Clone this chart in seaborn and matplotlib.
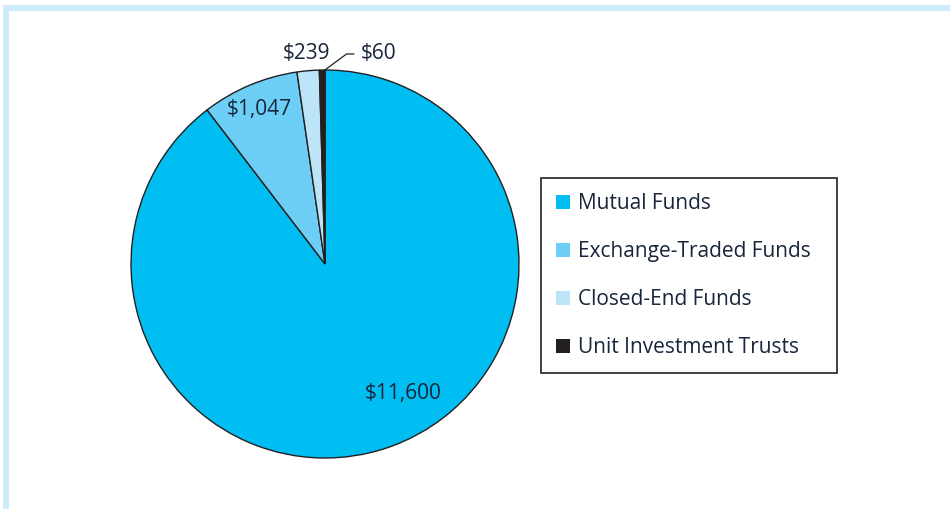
import matplotlib
matplotlib.use("Agg")
import matplotlib.pyplot as plt
from matplotlib.patches import Patch, Rectangle
import seaborn as sns
import numpy as np

categories = ["Mutual Funds", "Exchange-Traded Funds", "Closed-End Funds", "Unit Investment Trusts"]
values = [11600, 1047, 239, 60]
value_labels = ["$11,600", "$1,047", "$239", "$60"]
colors = sns.color_palette(["#00BDF2", "#6DCFF6", "#BDE5F8", "#231F20"])

sns.set_theme(style="white")
plt.rcParams['font.family'] = ['Open Sans', 'DejaVu Sans']
text_color = "#18253A"

W, H = 950, 509
fig = plt.figure(figsize=(W / 100, H / 100), dpi=100)
ax = fig.add_axes([0, 0, 1, 1])

cx, cy, R = 325, H - 264, 194
wedges, _ = ax.pie(values, colors=colors, startangle=90, counterclock=False,
                   center=(cx, cy), radius=R,
                   wedgeprops=dict(edgecolor="#231F20", linewidth=1.0))
ax.set_xlim(0, W)
ax.set_ylim(0, H)
ax.set_aspect("equal")
ax.axis("off")

def polar(angle_deg, r):
    a = np.deg2rad(angle_deg)
    return cx + r * np.cos(a), cy + r * np.sin(a)

# Labels
fs = 15
x, y = polar(-58.8, 151)
ax.text(x, y, value_labels[0], ha="center", va="center", fontsize=fs, color=text_color)
w = wedges[1]
x, y = polar((w.theta1 + w.theta2) / 2, 168)
ax.text(x, y, value_labels[1], ha="center", va="center", fontsize=fs, color=text_color)
ax.text(307, H - 53, value_labels[2], ha="center", va="center", fontsize=fs, color=text_color)
ax.text(361, H - 53, value_labels[3], ha="left", va="center", fontsize=fs, color=text_color)
w = wedges[3]
x0, y0 = polar((w.theta1 + w.theta2) / 2, R - 2)
ax.plot([x0, 346.5, 354], [y0, H - 54, H - 54], color="#231F20", lw=0.9)

# Legend
handles = [Patch(facecolor=c, edgecolor="none") for c in colors]
leg = ax.legend(handles, categories, loc="upper left", mode="expand",
                bbox_to_anchor=(541 / W, 1 - 371 / H, 296 / W, 193 / H),
                bbox_transform=fig.transFigure,
                frameon=True, fancybox=False, framealpha=1, facecolor="white",
                fontsize=15,
                handlelength=0.67, handleheight=0.67, handletextpad=0.4,
                labelspacing=1.30, borderpad=0.72, borderaxespad=0)
leg.get_frame().set_edgecolor("#231F20")
leg.get_frame().set_linewidth(1.2)
for t in leg.get_texts():
    t.set_color(text_color)

# Light-blue border bands (top and left)
band = "#CCEBFB"
fig.add_artist(Rectangle((3 / W, 1 - 11 / H), 1, 6 / H, transform=fig.transFigure,
                         facecolor=band, edgecolor="none"))
fig.add_artist(Rectangle((3 / W, 0), 6 / W, 1 - 5 / H, transform=fig.transFigure,
                         facecolor=band, edgecolor="none"))

fig.savefig("out.png", dpi=100)
